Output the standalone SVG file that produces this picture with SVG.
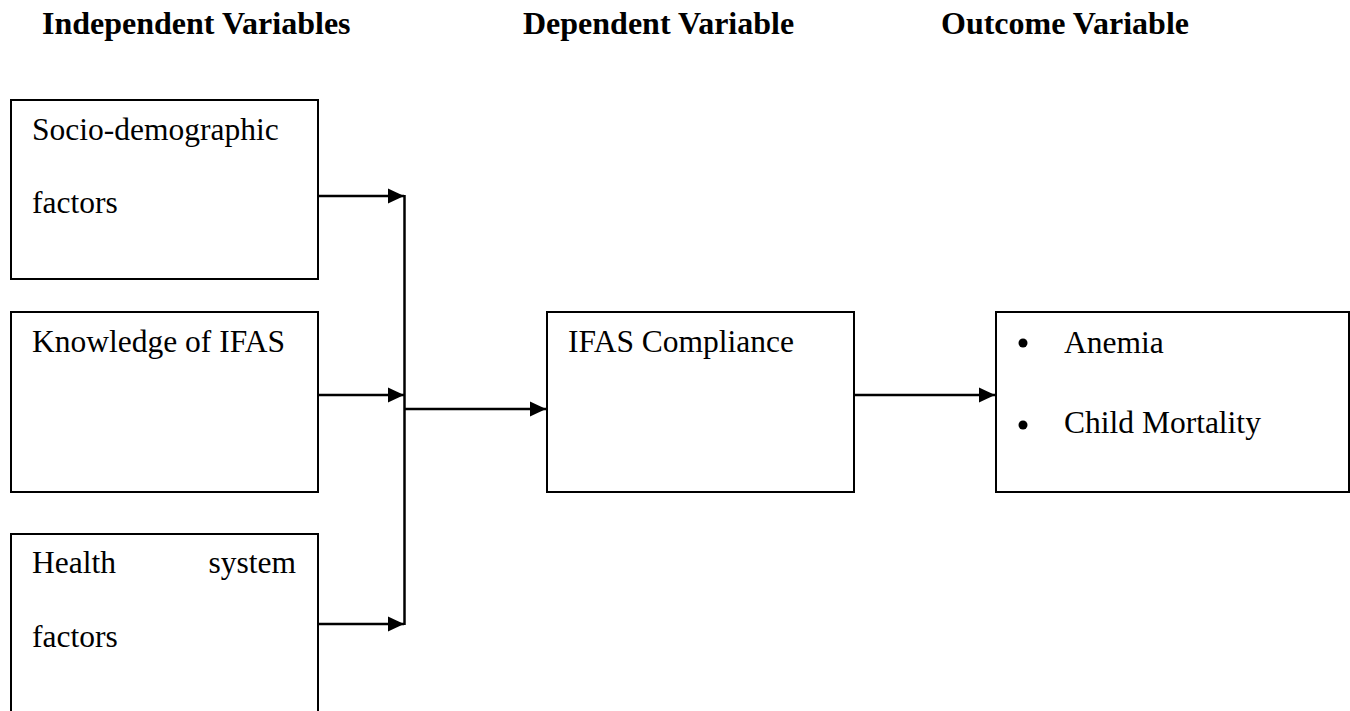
<svg xmlns="http://www.w3.org/2000/svg" width="1350" height="711" viewBox="0 0 1350 711">
<style>
.box{fill:#fff;stroke:#000;stroke-width:2}
.t{font-family:"Liberation Serif","Times New Roman",serif;font-size:31.5px;fill:#000}
.h{font-family:"Liberation Serif","Times New Roman",serif;font-size:32px;font-weight:bold;fill:#000}
.c{stroke:#000;stroke-width:2.5;fill:none}
</style>
<defs>
<marker id="ah" markerWidth="16" markerHeight="16" refX="16" refY="8" orient="auto" markerUnits="userSpaceOnUse">
<path d="M0,0.5 L16,8 L0,15.5 Z" fill="#000"/>
</marker>
</defs>
<rect width="1350" height="711" fill="#fff"/>
<g id="headings">
<text class="h" x="42" y="34">Independent Variables</text>
<text class="h" x="523" y="34">Dependent Variable</text>
<text class="h" x="941" y="34">Outcome Variable</text>
</g>
<g id="node-socio">
<rect class="box" x="11" y="100" width="307" height="179"/>
<text class="t" x="32" y="140">Socio-demographic</text>
<text class="t" x="32" y="213">factors</text>
</g>
<g id="node-knowledge">
<rect class="box" x="11" y="312" width="307" height="180"/>
<text class="t" x="32" y="352">Knowledge of IFAS</text>
</g>
<g id="node-health">
<rect class="box" x="11" y="534" width="307" height="200"/>
<text class="t" x="32" y="573">Health</text>
<text class="t" x="296" y="573" text-anchor="end">system</text>
<text class="t" x="32" y="647">factors</text>
</g>
<g id="node-compliance">
<rect class="box" x="547" y="312" width="307" height="180"/>
<text class="t" x="568" y="352">IFAS Compliance</text>
</g>
<g id="node-outcome">
<rect class="box" x="996" y="312" width="353" height="180"/>
<circle cx="1023" cy="343" r="4.5" fill="#000"/>
<text class="t" x="1064" y="353">Anemia</text>
<circle cx="1023" cy="425" r="4.5" fill="#000"/>
<text class="t" x="1064" y="433">Child Mortality</text>
</g>
<g id="connectors">
<line class="c" x1="318" y1="196" x2="404" y2="196" marker-end="url(#ah)"/>
<line class="c" x1="318" y1="395" x2="404" y2="395" marker-end="url(#ah)"/>
<line class="c" x1="318" y1="624" x2="404" y2="624" marker-end="url(#ah)"/>
<line class="c" x1="404.5" y1="195" x2="404.5" y2="625"/>
<line class="c" x1="404" y1="409" x2="546" y2="409" marker-end="url(#ah)"/>
<line class="c" x1="855" y1="395" x2="995" y2="395" marker-end="url(#ah)"/>
</g>
</svg>
